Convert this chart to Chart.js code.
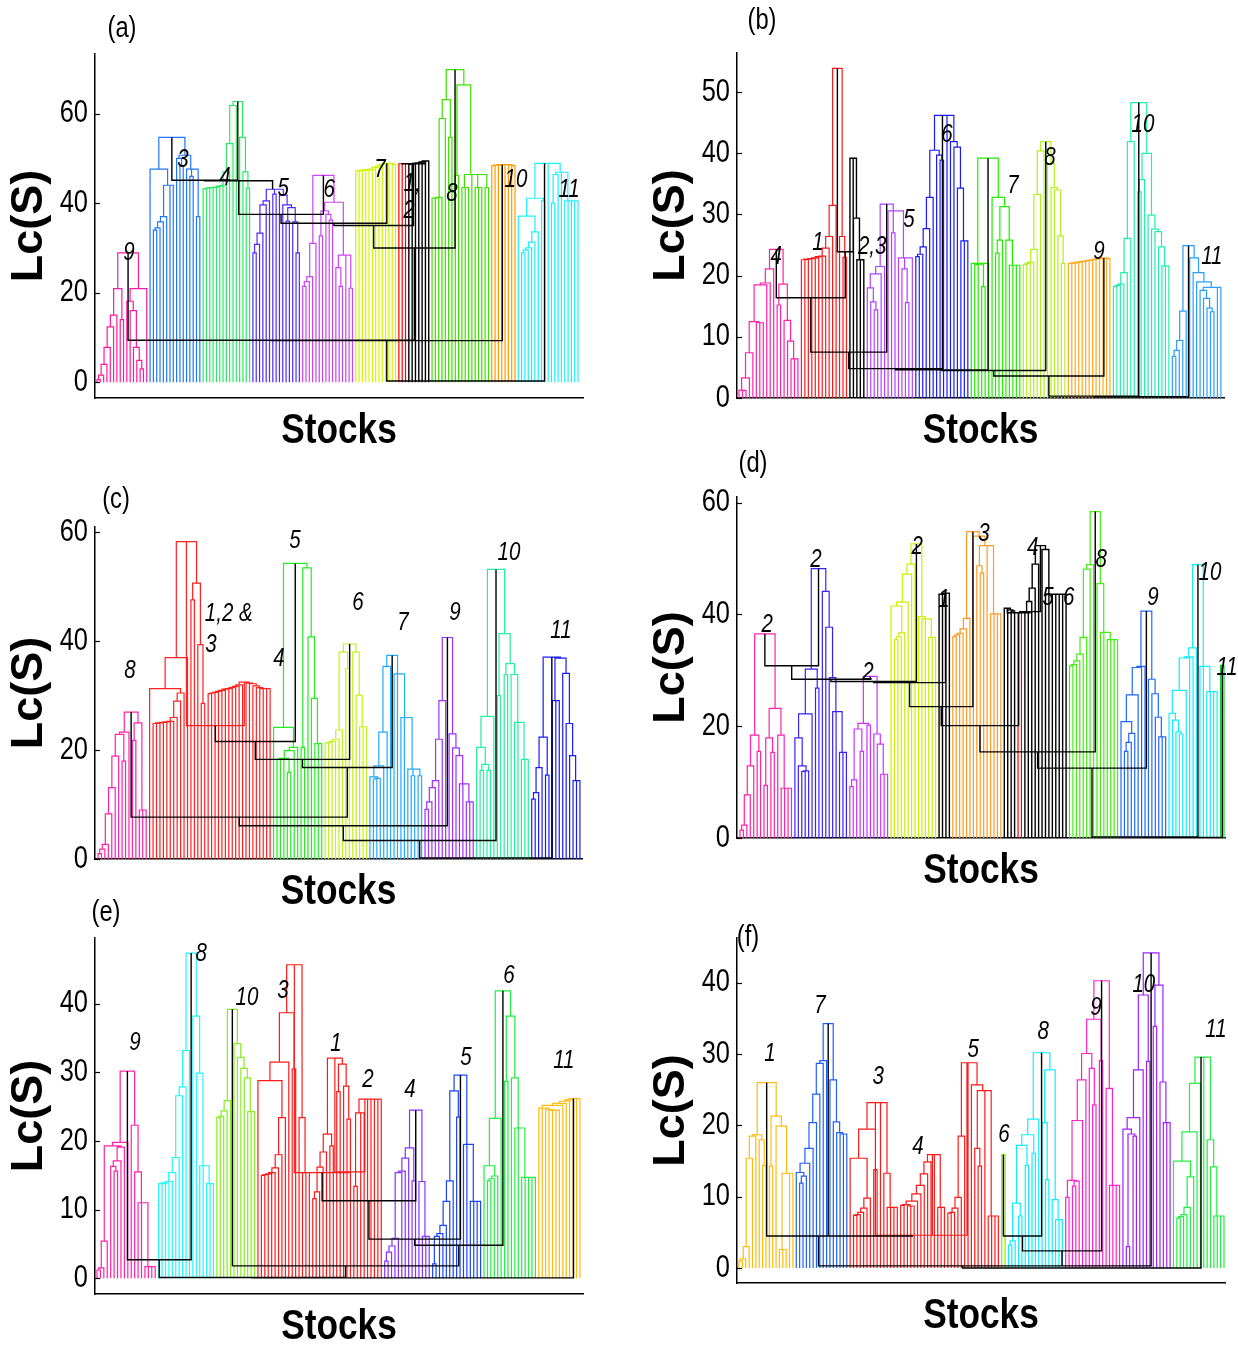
<!DOCTYPE html>
<html>
<head>
<meta charset="utf-8">
<script src="https://cdn.jsdelivr.net/npm/chart.js@4.4.0/dist/chart.umd.min.js"></script>
<style>
  body { margin: 0; background: #fff; }
  #page { position: relative; width: 1238px; height: 1349px; overflow: hidden; }
  #page canvas { position: absolute; }
  .letter { position: absolute; transform: translate(-50%, -50%) scaleX(0.82); line-height: 1;
            font: 29px 'Liberation Sans', Arial, sans-serif; }
</style>
</head>
<body>
<div id="page"></div>
<script>
const SANS = "'Liberation Sans', Arial, sans-serif";
const SQUEEZE = 0.82; // narrow look for ticks, labels and x title

// each cluster = list of merge heights between neighbouring stocks (left to right)
// links = heights of the joins between neighbouring clusters

// (a)
const gapsA = [
  [0.6, 1.6, 4, 7.8, 12.4, 15, 20.9, 14, 28.9, 18.1, 16, 7.8, 4.9, 3, 20.9],
  [47.6, 34, 34.5, 35.8, 37, 44, 44, 54.7, 50, 48.4, 50.7, 47.6, 46, 47.6, 37],
  [43.2, 43.3, 43.4, 43.5, 43.6, 43.8, 44, 47, 53.3, 61.8, 62.7, 54.7, 47, 43.3],
  [28.9, 30.8, 33.3, 39.6, 40.5, 43.1, 42, 43.1, 41.8, 39.6, 36, 39, 35.8, 28.9],
  [21.4, 22.5, 23.6, 31, 46.2, 32.7, 38.3, 37.5, 36.2, 40.2, 25.6, 21.4, 28.4, 28.4, 21],
  [47.2, 47.2, 47.3, 47.3, 47.5, 47.6, 48, 48.3, 48.6, 48.9, 48.9, 48.6],
  [48.8, 48.8],
  [48.7, 48.8, 48.9, 49, 49.2, 49.4],
  [41.1, 41.2, 41.3, 58.9, 63.1, 54.7, 69.8, 46.2, 66.4, 43.5, 43.5, 46.4, 46.4, 43.5, 43.5, 46.4, 43.5],
  [48.4, 48.5, 48.5, 48.6, 48.6, 48.5, 48.4],
  [37.1, 28.9, 29.5, 30, 31.3, 33.6, 41.1, 40.5, 48.9, 48.9, 40, 46.4, 46.9, 46.9, 40.5, 40.5, 40.5, 40.5]
];
const colorsA = ['#ff1aa0', '#1f78ff', '#2ee865', '#4d2bff', '#cc44f5', '#d2f500', '#ff0000', '#000000', '#3fe000', '#ff9a00', '#1ef0ff'];
const linksA = [9.4, 45.1, 45, 37.5, 35.5, 35, 48.8, 30, 9.3, 0.3];
const tagsA = [['9', 10.6, 28.9], ['3', 26.9, 49.6], ['4', 39.6, 45.6], ['5', 57.1, 43.1], ['6', 71, 42.9],
  ['7', 86.3, 47.3], ['1,', 96, 44.2], ['2', 95, 38.2], ['8', 108, 42], ['10', 127.3, 45.1], ['11', 143.3, 42.9]];
const ticksA = [0, 20, 40, 60];

// (b)
const gapsB = [
  [1.3, 1.2, 3.3, 7.4, 12.5, 12.3, 12.3, 18.5, 18.8, 21.1, 24.3, 15.2, 18.6, 12.7, 9.3, 6.4, 6.4],
  [22.6, 22.6, 22.7, 22.8, 22.9, 23.1, 23.2, 24.5, 26.4, 31.5, 53.9, 26.4, 23],
  [39.2, 29.4, 22.6, 22.6],
  [18, 15.7, 14.4, 20.3, 21.5, 31.7, 30.6, 27, 30.6, 22.9, 21.1, 15.6, 22.9],
  [23.1, 23.5, 24.7, 27.7, 32.8, 40.5, 39.7, 38.9, 46.2, 46.2, 41.9, 41, 34.3, 25.7, 25.7],
  [22, 21.8, 21.9, 18.2, 22, 39.2, 32.8, 23.7, 25.8, 31.3, 25.8, 21.7, 21.7, 21.7],
  [21.8, 22, 22.2, 24.3, 33.3, 40.4, 41.9, 38.3, 34.4, 34, 26.5, 22],
  [22, 22, 22.1, 22.2, 22.3, 22.4, 22.5, 22.6, 22.7, 22.8, 22.9, 22.8],
  [18.2, 18.4, 18.6, 20.5, 26.1, 41.9, 48.3, 33.7, 35.7, 40, 29.9, 27.6, 27.2, 24.7, 21.6, 21.6],
  [6.8, 7.8, 9.4, 14.2, 24.9, 22.9, 20.5, 19, 17.6, 16.3, 14.7, 14.1, 18.1, 18.1]
];
const colorsB = ['#ff22aa', '#ff1a1a', '#000000', '#b044ff', '#1a1aff', '#22ee00', '#b4f020', '#ffaa22', '#22f0aa', '#2a9dff'];
const linksB = [16.4, 23.9, 7.5, 4.8, 4.6, 4.5, 3.6, 0.3, 0.2];
const tagsB = [['4', 11.7, 23], ['1', 23.8, 25.3], ['2,3', 39.4, 24.7], ['5', 50, 29.1], ['6', 61, 43],
  ['7', 80, 34.6], ['8', 90.7, 39.2], ['9', 104.8, 23.9], ['10', 117.5, 44.6], ['11', 137.4, 23]];
const ticksB = [0, 10, 20, 30, 40, 50];

// (c)
const gapsC = [
  [1, 1.8, 2.7, 8.3, 13.1, 18.9, 22.9, 18, 23.3, 27, 21.8, 25, 9, 9],
  [31.3, 24.9, 24.9, 25, 25.1, 25.2, 25.3, 26, 29, 30.5, 37, 58.3, 47.6, 50.7, 39.4, 28.6],
  [30.4, 30.5, 30.6, 30.8, 31, 31.2, 31.3, 31.5, 31.7, 32, 32.5, 32.3, 32.2, 31.8, 31.5, 31.3, 31.3, 31.3],
  [24.2, 18.3, 18.3, 18.5, 15.9, 19.9, 20.5, 54.3, 20.5, 53.5, 40.8, 29.5, 21.2, 21.2],
  [21.3, 21.4, 21.6, 22, 23.7, 38, 35, 39.5, 38, 30.1, 24.3, 24.3],
  [15.1, 14.7, 14.8, 17.1, 23.3, 35.4, 37.4, 34, 34, 26, 26, 16.5, 15.3, 16.5, 15.3],
  [9.1, 10.5, 13.1, 14.4, 22, 29.1, 40.7, 23, 20.4, 19, 13.8, 13.8, 10.5, 10.5],
  [20.5, 16.3, 17.4, 16.3, 26.2, 53.2, 30, 41.4, 33.9, 35.9, 33.9, 25.1, 25.1, 18.3, 18.3],
  [11, 12.2, 16.8, 22.4, 15.4, 37.1, 29.1, 29.1, 36.9, 34.1, 24.9, 19, 14.4, 14.4]
];
const colorsC = ['#ff22aa', '#ff2020', '#ff2020', '#22ee22', '#c4f020', '#22aaff', '#a030ff', '#22f0a0', '#1a1aff'];
const linksC = [7.7, 24.5, 21.6, 18.3, 16.8, 6.1, 3.4, 0.2];
const tagsC = [['8', 10.3, 34.5], ['1,2 &', 39, 45], ['3', 33.8, 39.3], ['4', 53.6, 36.7], ['5', 58.2, 58.4],
  ['6', 76.5, 47], ['7', 89.6, 43.3], ['9', 104.7, 45.2], ['10', 120.4, 56.2], ['11', 135.5, 41.8]];
const ticksC = [0, 20, 40, 60];

// (d)
const gapsD = [
  [1.4, 2.3, 7.7, 12.9, 18.4, 15.5, 36.5, 9.4, 17.9, 15.3, 23.2, 18.4, 8.9, 8.9, 8.9],
  [17.9, 12.9, 11.9, 12, 22.2, 30.2, 26.8, 48.2, 44.1, 37.7, 28.7, 22.6, 22.6, 15.3, 15.3],
  [9.2, 10.4, 19.5, 15.5, 20.5, 20.2, 28.9, 18.6, 16.8, 11.4, 11.4],
  [41.5, 35.5, 36, 36.7, 42.2, 47.2, 49, 52.6, 39.6, 39.2, 39.2, 35.9, 35.9],
  [43.6, 43.6, 43.8],
  [36, 36.3, 36.6, 37.4, 39.3, 54.8, 54, 48.7, 47.4, 52.3, 52.3, 40.1, 40.1, 40.1],
  [41.1, 40.8, 40.6],
  [40.3],
  [40.4, 42.3, 44.7, 49, 52.3, 51.6, 43.6, 43.6, 43.6, 43.6, 43.6, 43.6],
  [30.8, 31, 31.7, 32.9, 35.9, 48.1, 48.9, 58.4, 45.5, 36.8, 36.8, 35.5, 35.5, 35.5],
  [20.8, 15.5, 17.1, 18.7, 25.6, 30.5, 30.7, 40.6, 28.4, 25.8, 21.6, 18.1, 18.1],
  [22.3, 21.1, 19, 18.6, 26.4, 32.2, 32.4, 34, 48.9, 30.7, 30.7, 26.2, 26.2, 26.2],
  [30.9]
];
const colorsD = ['#ff22aa', '#3a22ff', '#cc33ff', '#ccf000', '#000000', '#ff9922', '#000000', '#ff0000',
  '#000000', '#44ee11', '#2266ff', '#11eeff', '#11cc33'];
const linksD = [30.8, 28.4, 28, 27.8, 23.5, 20.1, 40.3, 40.5, 15.4, 12.5, 0.2, 0.1];
const tagsD = [['2', 8.9, 38.1], ['2', 23.1, 49.8], ['2', 38.3, 29.5], ['2', 52.6, 52.1], ['1', 60.4, 42.6],
  ['3', 72.1, 54.3], ['4', 86.3, 51.9], ['5', 90.7, 43], ['6', 96.8, 43], ['8', 106.2, 49.8],
  ['9', 121.3, 43], ['10', 137.9, 47.4], ['11', 142.9, 30.4]];
const ticksD = [0, 20, 40, 60];

// (e)
const gapsE = [
  [1.2, 1.5, 5.4, 19.3, 16.3, 15.6, 17.1, 19.1, 19.8, 30.2, 22.3, 15.5, 11, 11, 1.7, 1.7, 1.7],
  [13.8, 13.8, 13.9, 14.1, 15.4, 17.6, 26.6, 27.9, 33.2, 47.4, 38.2, 29.9, 16.4, 16.4, 13.8, 13.8],
  [23.4, 23.6, 24.4, 25.9, 39.2, 34.2, 32.2, 30.6, 29.2, 24.3, 24.3],
  [28.8, 15, 15.1, 15.2, 15.4, 16.1, 18, 23.4, 31.5, 38.7, 30.5, 45.7, 23.4, 15.4, 15.4],
  [11.6, 12.6, 16.2, 18.4, 21, 19.3, 32.1, 27.2, 31.2, 28, 23.2],
  [13.4, 24.1, 24.1, 26.1, 26.1, 26.1, 26.1, 26.1],
  [2.5, 3.8, 4.7, 5.8, 15.4, 15.6, 17.5, 19, 14.2, 24.5, 14.1, 6.1, 6.1],
  [2.1, 6.1, 6.5, 7.7, 11.2, 14.2, 27.3, 23.5, 29.6, 19.5, 19.5, 11.2, 11.2, 11.2],
  [16.4, 14.2, 14.5, 14.9, 23.3, 41.9, 28.7, 38.2, 29.2, 21.9, 21.9, 14.7, 14.7, 14.7, 14.7],
  [24.8, 24.8, 24.6, 24.5, 24.5, 24.5, 25.2, 25.5, 25.8, 26, 26.2, 26.2]
];
const colorsE = ['#ff22aa', '#22f8ff', '#88ee22', '#ff1a1a', '#ff1a1a', '#ff1a1a', '#8833ff', '#1a44ff', '#22ee44', '#ffbb11'];
const linksE = [2.7, 0.1, 1.8, 15.4, 15.5, 11.3, 5.7, 4.8, 0.05];
const tagsE = [['9', 12.1, 34.3], ['8', 31.4, 47.3], ['10', 44.8, 40.9], ['3', 55.3, 41.9], ['1', 70.8, 34.2],
  ['2', 80.1, 28.9], ['4', 92.4, 27.4], ['5', 108.7, 32.1], ['6', 121.3, 44.1], ['11', 137.3, 31.7]];
const ticksE = [0, 10, 20, 30, 40];

// (f)
const gapsF = [
  [1, 1.3, 3, 15.4, 18.5, 18.7, 18, 14.4, 26, 14.3, 21.3, 19.9, 2.6, 2.6, 13.3, 13.3],
  [13.4, 11.9, 12.9, 14.7, 16.8, 20.4, 24.4, 28.7, 29.1, 34.3, 26.4, 20.5, 19, 18.8, 18.8],
  [15.4, 7.4, 7.5, 7.8, 8.4, 9.8, 19.5, 13.8, 23.2, 23.2, 13.3, 8.5, 8.5, 8.5],
  [8.8, 8.9, 8.7, 8.7, 9.4, 10.4, 11.6, 13.2, 14.9, 15.9, 15.9, 8.5, 8.5],
  [7.7, 7.8, 8.4, 9.9, 18.5, 28.8, 28.8, 25.7, 16.8, 14.3, 24.9, 24.9, 7.3, 7.3, 7.3],
  [15.9],
  [3.2, 3.8, 9.1, 7.3, 17.2, 14.4, 18.7, 16.1, 20.9, 30.2, 20.4, 12.4, 27.8, 9.6, 6.8, 6.8],
  [9.9, 12.3, 11.5, 12.2, 20.7, 26.4, 30.1, 28, 22.9, 34.9, 29.1, 40.3, 25.2, 11.6, 11.6, 11.6],
  [19.5, 3, 18.8, 18.5, 21.1, 27.8, 38.3, 29, 44.2, 33.9, 39.7, 26.1, 20.4, 20.4],
  [15, 7, 7.2, 7.5, 8.5, 12.8, 19.1, 25.9, 29.6, 29.6, 18, 14.2, 7.3, 7.3, 7.3]
];
const colorsF = ['#ffbb11', '#1f5fff', '#ff1a1a', '#ff1a1a', '#ff1a1a', '#88ee00', '#11eeff', '#ff22cc', '#a022ff', '#22ee44'];
const linksF = [4.5, 4.5, 4.6, 4.6, 0.3, 4.5, 2.4, 0.3, 0];
const tagsF = [['1', 10.2, 30], ['7', 25, 36.7], ['3', 42.3, 26.8], ['4', 54.1, 17], ['5', 70.5, 30.6],
  ['6', 79.7, 18.7], ['8', 91.3, 33.1], ['9', 107, 36.5], ['10', 121.2, 39.7], ['11', 142.6, 33.4]];
const ticksF = [0, 10, 20, 30, 40];

const page = document.getElementById('page');

// U shaped link from child a to child b at height h, then a break
function link(pts, a, b, h) {
  pts.push({x: a.x, y: a.h}, {x: a.x, y: h}, {x: b.x, y: h}, {x: b.x, y: b.h}, {x: b.x, y: null});
}

// inside a cluster the highest merge is the top node
function grow(gaps, first, color, pts) {
  function split(lo, hi) {
    if (lo === hi) return {x: first + lo, h: 0, c: color};
    let k = lo;
    for (let i = lo + 1; i < hi; i++) if (gaps[i] > gaps[k]) k = i;
    const l = split(lo, k), r = split(k + 1, hi);
    link(pts, l, r, gaps[k]);
    return {x: (l.x + r.x) / 2, h: gaps[k], c: color};
  }
  return split(0, gaps.length);
}

// clusters hang together through the lowest joins; black unless both sides share a colour
function join(roots, links, lines) {
  function split(lo, hi) {
    if (lo === hi) return roots[lo];
    let k = lo;
    for (let i = lo + 1; i < hi; i++) if (links[i] < links[k]) k = i;
    const l = split(lo, k), r = split(k + 1, hi);
    const c = l.c === r.c ? l.c : '#000000';
    link(lines(c), l, r, links[k]);
    return {x: (l.x + r.x) / 2, h: links[k], c: c};
  }
  split(0, roots.length - 1);
}

function squeezed(ctx, text, x, y, font, align) {
  ctx.save();
  ctx.translate(x, y);
  ctx.scale(SQUEEZE, 1);
  ctx.font = font;
  ctx.textAlign = align;
  ctx.textBaseline = 'middle';
  ctx.fillText(text, 0, 0);
  ctx.restore();
}

function marks(tags, ticks) {
  return {
    id: 'marks',
    afterDraw(chart) {
      const {ctx, chartArea, scales: {x, y}} = chart;
      ctx.save();
      ctx.strokeStyle = '#000';
      ctx.fillStyle = '#000';
      ctx.lineWidth = 1.2;
      ticks.forEach(v => {
        const py = y.getPixelForValue(v);
        ctx.beginPath();
        ctx.moveTo(chartArea.left, Math.round(py) + 0.5);
        ctx.lineTo(chartArea.left + 5, Math.round(py) + 0.5);
        ctx.stroke();
        squeezed(ctx, String(v), chartArea.left - 7, py, '31px ' + SANS, 'right');
      });
      tags.forEach(t => squeezed(ctx, t[0], x.getPixelForValue(t[1]), y.getPixelForValue(t[2]), 'italic 25px ' + SANS, 'center'));
      squeezed(ctx, 'Stocks', (chartArea.left + chartArea.right) / 2, chartArea.bottom + 33, 'bold 43px ' + SANS, 'center');
      ctx.restore();
    }
  };
}

function panel(p) {
  const [L, T, R, B] = p.box;
  const padTop = 24, padRight = p.right, axisW = 95, axisH = 57;
  const canvas = document.createElement('canvas');
  canvas.width = (R - L) + axisW + padRight;
  canvas.height = padTop + (B - T) + axisH;
  canvas.style.left = (L - axisW) + 'px';
  canvas.style.top = (T - padTop) + 'px';
  page.appendChild(canvas);

  const tag = document.createElement('div');
  tag.className = 'letter';
  tag.textContent = p.letter;
  tag.style.left = p.letterAt[0] + 'px';
  tag.style.top = p.letterAt[1] + 'px';
  page.appendChild(tag);

  const byColor = new Map([['#000000', []]]);
  const lines = c => {
    if (!byColor.has(c)) byColor.set(c, []);
    return byColor.get(c);
  };
  const roots = [];
  let first = 1;
  p.gaps.forEach((g, i) => {
    roots.push(grow(g, first, p.colors[i], lines(p.colors[i])));
    first += g.length + 1;
  });
  join(roots, p.links, lines);

  // black comes first in the list so it is painted last, on top
  const sets = [...byColor].map(([c, pts]) => ({
    data: pts, borderColor: c, borderWidth: c === '#000000' ? 1.4 : 1.2
  }));

  new Chart(canvas, {
    type: 'line',
    data: {datasets: sets},
    options: {
      responsive: false,
      animation: false,
      devicePixelRatio: 1,
      events: [],
      layout: {padding: {top: padTop, right: padRight, left: 0, bottom: 0}},
      elements: {point: {radius: 0}, line: {tension: 0, fill: false}},
      spanGaps: false,
      plugins: {legend: {display: false}, tooltip: {enabled: false}},
      scales: {
        x: {
          type: 'linear', min: p.x[0], max: p.x[1],
          ticks: {display: false},
          grid: {display: false, drawTicks: false},
          border: {color: '#000', width: 1.5},
          afterFit: s => { s.height = axisH; }
        },
        y: {
          type: 'linear', min: p.y[0], max: p.y[1],
          afterBuildTicks: s => { s.ticks = p.ticks.map(v => ({value: v})); },
          ticks: {display: false},
          grid: {display: false, drawTicks: false},
          border: {color: '#000', width: 1.5},
          title: {display: true, text: 'Lc(S)', color: '#000', padding: {top: 7, bottom: 0},
                  font: {family: SANS, size: 45, weight: 'bold', lineHeight: 1}},
          afterFit: s => { s.width = axisW; }
        }
      }
    },
    plugins: [marks(p.tags, p.ticks)]
  });
}

panel({letter: '(a)', letterAt: [122, 27], box: [95, 54, 583, 398], right: 20, x: [0.4, 147.5], y: [-3.5, 73.3],
  ticks: ticksA, gaps: gapsA, colors: colorsA, links: linksA, tags: tagsA});
panel({letter: '(b)', letterAt: [762, 19], box: [737, 53, 1224, 398], right: 14, x: [0.42, 140.9], y: [0, 56.4],
  ticks: ticksB, gaps: gapsB, colors: colorsB, links: linksB, tags: tagsB});
panel({letter: '(c)', letterAt: [116, 498], box: [95, 527, 582, 859], right: 20, x: [0.13, 141.6], y: [0, 61],
  ticks: ticksC, gaps: gapsC, colors: colorsC, links: linksC, tags: tagsC});
panel({letter: '(d)', letterAt: [753, 462], box: [737, 497, 1225, 838], right: 13, x: [0.13, 142.3], y: [0, 61],
  ticks: ticksD, gaps: gapsD, colors: colorsD, links: linksD, tags: tagsD});
panel({letter: '(e)', letterAt: [106, 911], box: [95, 938, 583, 1294], right: 20, x: [0.42, 142.9], y: [-2.3, 49.6],
  ticks: ticksE, gaps: gapsE, colors: colorsE, links: linksE, tags: tagsE});
panel({letter: '(f)', letterAt: [748, 936], box: [737, 938, 1225, 1283], right: 13, x: [0.4, 145.3], y: [-2.1, 46.3],
  ticks: ticksF, gaps: gapsF, colors: colorsF, links: linksF, tags: tagsF});
</script>
</body>
</html>
